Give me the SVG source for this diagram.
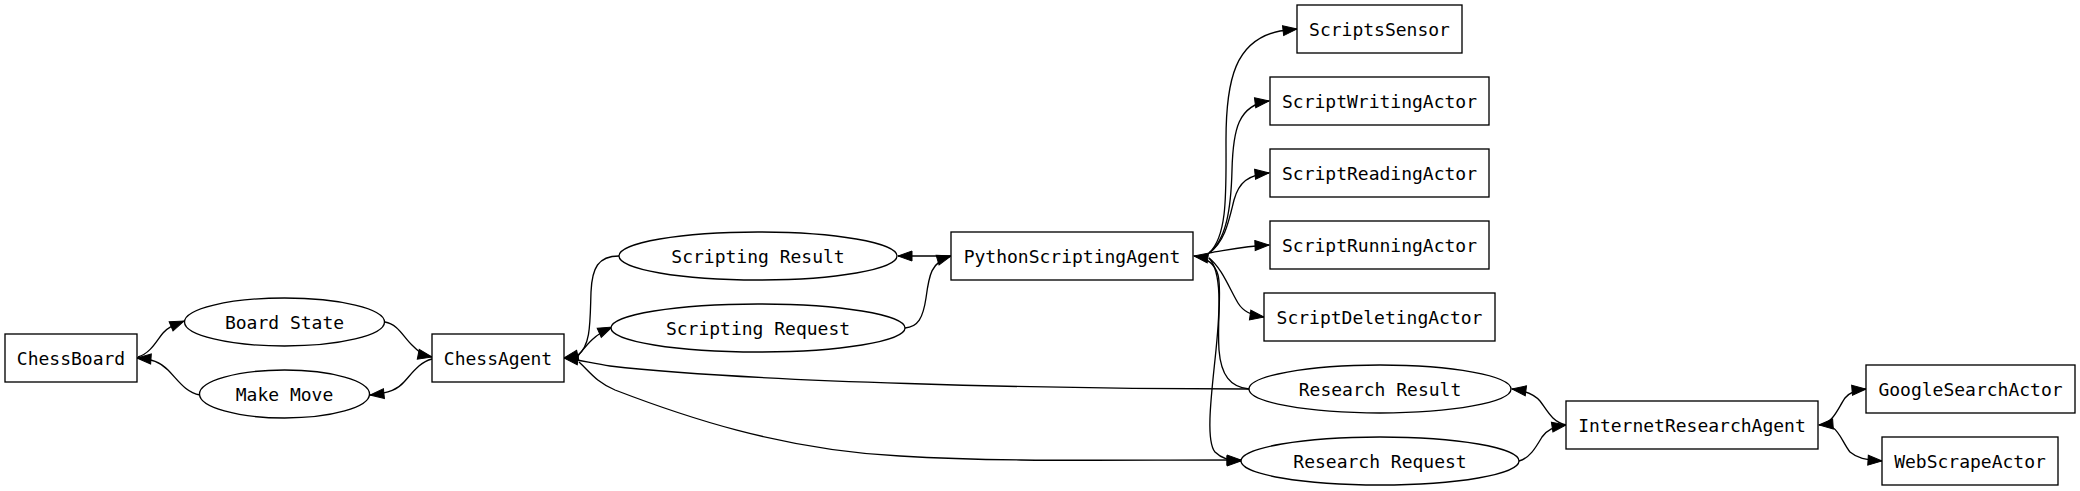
<svg xmlns="http://www.w3.org/2000/svg" width="2080" height="491" viewBox="0 0 2080 491">
<style>
  .node rect, .node ellipse { fill: #fff; stroke: #000; stroke-width: 1.33; }
  .node text { font-family: "DejaVu Sans Mono", "Liberation Mono", monospace; font-size: 18px; text-anchor: middle; fill: #000; }
  .edge { fill: none; stroke: #000; stroke-width: 1.33; }
  .arrow { marker-end: url(#arr); }
</style>
<defs>
  <marker id="arr" markerWidth="15" markerHeight="11" refX="14" refY="5" orient="auto" markerUnits="userSpaceOnUse" overflow="visible">
    <path d="M0,0 L14,5 L0,10 z" fill="#000" stroke="#000" stroke-width="1"/>
  </marker>
  <marker id="arrs" markerWidth="15" markerHeight="11" refX="14" refY="5" orient="auto-start-reverse" markerUnits="userSpaceOnUse" overflow="visible">
    <path d="M0,0 L14,5 L0,10 z" fill="#000" stroke="#000" stroke-width="1"/>
  </marker>
</defs>
<rect width="2080" height="491" fill="#fff"/>

<g id="connectors">
  <!-- ChessBoard -> Board State -->
  <path class="edge arrow" d="M138,357 C151,353 157,340 163,333 C167,328 172,326 184,321"/>
  <!-- Board State -> ChessAgent -->
  <path class="edge arrow" d="M385,322 C398,324 404,338 413,346 C418,351 422,355 432,357"/>
  <!-- ChessAgent -> Make Move -->
  <path class="edge arrow" d="M432,359 C420,362 413,372 404,382 C398,389 390,393 370,395"/>
  <!-- Make Move -> ChessBoard -->
  <path class="edge arrow" d="M200,395 C185,392 178,380 168,370 C160,362 152,359 137,358"/>
  <!-- ChessAgent -> Scripting Request -->
  <path class="edge arrow" d="M578,356 C586,346 592,336 612,327"/>
  <!-- Scripting Result -> ChessAgent -->
  <path class="edge arrow" d="M619,256 C598,256 592,268 591,292 C590,322 591,345 578,355 L564,358"/>
  <!-- Scripting Request -> PythonScriptingAgent -->
  <path class="edge arrow" d="M905,328 C918,327 923,318 926,298 C929,275 931,262 951,256"/>
  <!-- PythonScriptingAgent -> Scripting Result -->
  <path class="edge arrow" d="M951,256 L898,256"/>
  <!-- PythonScriptingAgent -> ScriptsSensor -->
  <path class="edge arrow" d="M1209,253 C1228,236 1226,190 1226,140 C1226,80 1235,40 1280,31 L1297,29"/>
  <!-- PythonScriptingAgent -> ScriptWritingActor -->
  <path class="edge arrow" d="M1209,253 C1226,240 1231,210 1232,170 C1233,130 1238,105 1269,101"/>
  <!-- PythonScriptingAgent -> ScriptReadingActor -->
  <path class="edge arrow" d="M1209,253 C1225,242 1229,220 1234,200 C1239,182 1248,175 1269,173"/>
  <!-- PythonScriptingAgent -> ScriptRunningActor -->
  <path class="edge arrow" d="M1209,253 C1228,250 1245,246 1269,245"/>
  <!-- PythonScriptingAgent -> ScriptDeletingActor -->
  <path class="edge arrow" d="M1209,258 C1222,268 1230,290 1238,303 C1243,311 1250,315 1264,317"/>
  <!-- Research Result -> PythonScriptingAgent -->
  <path class="edge arrow" d="M1249,389 C1230,387 1221,375 1219,350 C1217,320 1222,290 1218,275 C1215,264 1208,258 1194,256"/>
  <!-- PythonScriptingAgent -> Research Request -->
  <path class="edge arrow" d="M1209,258 C1222,272 1220,310 1216,350 C1212,390 1205,440 1215,452 C1222,459 1230,461 1241,461"/>
  <!-- Research Result -> ChessAgent -->
  <path class="edge arrow" d="M1249,389 C1050,389 750,382 610,366 C595,364 580,360 564,358"/>
  <!-- ChessAgent -> Research Request -->
  <path class="edge arrow" d="M579,362 C590,372 596,382 615,390 C680,415 780,450 900,456 C1000,462 1100,460 1241,460"/>
  <!-- Research Request -> InternetResearchAgent -->
  <path class="edge arrow" d="M1519,461 C1530,458 1536,447 1542,437 C1547,430 1553,427 1566,425"/>
  <!-- InternetResearchAgent -> Research Result -->
  <path class="edge arrow" d="M1566,425 C1552,422 1547,410 1540,401 C1535,395 1528,391 1512,389"/>
  <!-- InternetResearchAgent <-> GoogleSearchActor -->
  <path class="edge arrow" marker-start="url(#arrs)" d="M1819,425 C1833,424 1838,408 1845,398 C1849,393 1854,390 1866,389"/>
  <!-- InternetResearchAgent -> WebScrapeActor -->
  <path class="edge arrow" d="M1832,427 C1840,432 1843,443 1850,452 C1857,458 1865,460 1882,461"/>
</g>

<g id="n_ChessBoard" class="node"><rect x="5" y="334" width="132" height="48"/><text x="71" y="364.5">ChessBoard</text></g>
<g id="n_BoardState" class="node"><ellipse cx="284.5" cy="322" rx="100" ry="24"/><text x="284.5" y="328.5">Board State</text></g>
<g id="n_MakeMove" class="node"><ellipse cx="284.5" cy="394" rx="85" ry="24"/><text x="284.5" y="400.5">Make Move</text></g>
<g id="n_ChessAgent" class="node"><rect x="432" y="334" width="132" height="48"/><text x="498" y="364.5">ChessAgent</text></g>
<g id="n_ScriptingResult" class="node"><ellipse cx="758" cy="256" rx="139" ry="24"/><text x="758" y="262.5">Scripting Result</text></g>
<g id="n_ScriptingRequest" class="node"><ellipse cx="758" cy="328" rx="147" ry="24"/><text x="758" y="334.5">Scripting Request</text></g>
<g id="n_PythonScriptingAgent" class="node"><rect x="951" y="232" width="242" height="48"/><text x="1072" y="262.5">PythonScriptingAgent</text></g>
<g id="n_ScriptsSensor" class="node"><rect x="1297" y="5" width="165" height="48"/><text x="1379.5" y="35.5">ScriptsSensor</text></g>
<g id="n_ScriptWritingActor" class="node"><rect x="1270" y="77" width="219" height="48"/><text x="1379.5" y="107.5">ScriptWritingActor</text></g>
<g id="n_ScriptReadingActor" class="node"><rect x="1270" y="149" width="219" height="48"/><text x="1379.5" y="179.5">ScriptReadingActor</text></g>
<g id="n_ScriptRunningActor" class="node"><rect x="1270" y="221" width="219" height="48"/><text x="1379.5" y="251.5">ScriptRunningActor</text></g>
<g id="n_ScriptDeletingActor" class="node"><rect x="1264" y="293" width="231" height="48"/><text x="1379.5" y="323.5">ScriptDeletingActor</text></g>
<g id="n_ResearchResult" class="node"><ellipse cx="1380" cy="389" rx="131" ry="24"/><text x="1380" y="395.5">Research Result</text></g>
<g id="n_ResearchRequest" class="node"><ellipse cx="1380" cy="461" rx="139" ry="24"/><text x="1380" y="467.5">Research Request</text></g>
<g id="n_InternetResearchAgent" class="node"><rect x="1566" y="401" width="252" height="48"/><text x="1692" y="431.5">InternetResearchAgent</text></g>
<g id="n_GoogleSearchActor" class="node"><rect x="1866" y="365" width="209" height="48"/><text x="1970.5" y="395.5">GoogleSearchActor</text></g>
<g id="n_WebScrapeActor" class="node"><rect x="1882" y="437" width="176" height="48"/><text x="1970" y="467.5">WebScrapeActor</text></g>
</svg>
